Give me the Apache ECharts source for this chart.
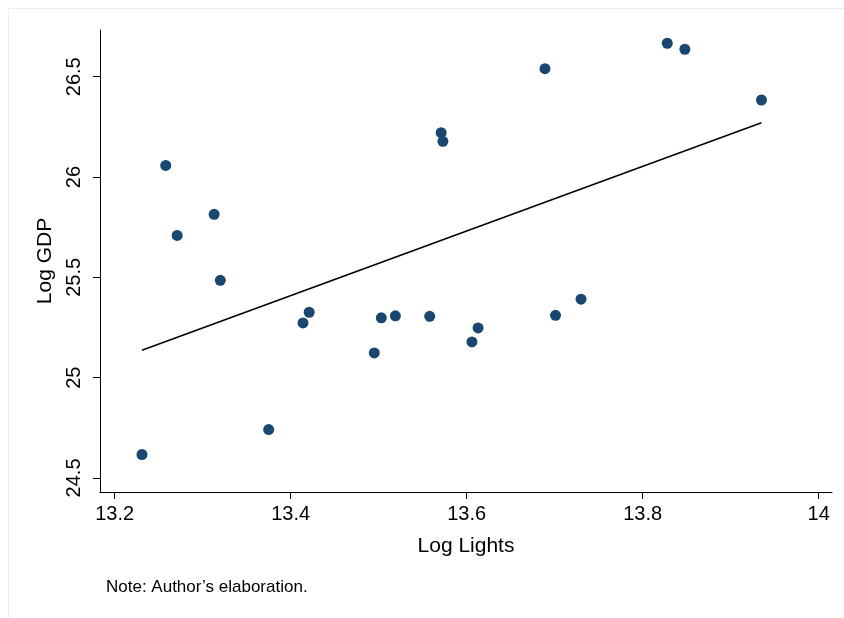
<!DOCTYPE html>
<html>
<head>
<meta charset="utf-8">
<title>Log GDP vs Log Lights</title>
<script src="https://cdn.jsdelivr.net/npm/echarts@6/dist/echarts.min.js"></script>
<style>
  html, body { margin: 0; padding: 0; background: #fff; }
  #chart { width: 844px; height: 618px; }
</style>
</head>
<body>
<div id="chart"></div>
<script>
  // log lights (x) and log gdp (y)
  var logLights = [13.231, 13.258, 13.271, 13.313, 13.320, 13.375, 13.414, 13.421,
    13.495, 13.503, 13.519, 13.558, 13.571, 13.573, 13.606, 13.613,
    13.689, 13.701, 13.730, 13.828, 13.848, 13.935]
  var logGdp = [24.617, 26.058, 25.709, 25.814, 25.485, 24.741, 25.273, 25.326,
    25.123, 25.298, 25.308, 25.306, 26.221, 26.178, 25.178, 25.248,
    26.540, 25.311, 25.391, 26.667, 26.637, 26.384]
  // fitted line ends
  var fitX = [13.231, 13.935]
  var fitY = [25.137, 26.271]
  var xTicks = [13.2, 13.4, 13.6, 13.8, 14]
  var yTicks = [24.5, 25, 25.5, 26, 26.5]

  var points = logLights.map(function (x, i) { return [x, logGdp[i]] })
  var fit = fitX.map(function (x, i) { return [x, fitY[i]] })

  var font = 'Liberation Sans, Arial, Helvetica, sans-serif'
  var chart = echarts.init(document.getElementById('chart'))
  chart.setOption({
    animation: false,
    backgroundColor: '#fff',
    textStyle: { fontFamily: font },
    grid: { left: 100, right: 12, top: 30, bottom: 126 },
    xAxis: {
      type: 'value',
      min: 13.1833,
      max: 14.0152,
      name: 'Log Lights',
      nameLocation: 'middle',
      nameGap: 44,
      nameTextStyle: { color: '#000', fontSize: 21, fontFamily: font },
      axisLine: { show: true, onZero: false, lineStyle: { color: '#000', width: 1 } },
      axisTick: { show: true, length: 7, customValues: xTicks, lineStyle: { color: '#000' } },
      axisLabel: { customValues: xTicks, color: '#000', fontSize: 20, margin: 12, fontFamily: font },
      splitLine: { show: false }
    },
    yAxis: {
      type: 'value',
      min: 24.430,
      max: 26.733,
      name: 'Log GDP',
      nameLocation: 'middle',
      nameRotate: 90,
      nameGap: 42,
      nameTextStyle: { color: '#000', fontSize: 21, fontFamily: font },
      axisLine: { show: true, onZero: false, lineStyle: { color: '#000', width: 1 } },
      axisTick: { show: true, length: 7, customValues: yTicks, lineStyle: { color: '#000' } },
      axisLabel: { customValues: yTicks, rotate: 90, color: '#000', fontSize: 20, margin: 16, fontFamily: font },
      splitLine: { show: false }
    },
    graphic: [
      {
        type: 'rect',
        shape: { x: 8.5, y: 8.5, width: 900, height: 700 },
        style: { fill: 'none', stroke: '#e6eeee', lineWidth: 1 },
        silent: true
      },
      {
        type: 'text',
        left: 106,
        top: 579,
        style: { text: 'Note: Author\u2019s elaboration.', fill: '#000', font: '17px ' + font }
      }
    ],
    series: [
      {
        name: 'fit',
        type: 'line',
        data: fit,
        showSymbol: false,
        lineStyle: { color: '#000', width: 1.6 },
        z: 1
      },
      {
        name: 'obs',
        type: 'scatter',
        data: points,
        symbolSize: 11,
        itemStyle: { color: '#1a476f', opacity: 1 },
        z: 2
      }
    ]
  })
</script>
</body>
</html>
